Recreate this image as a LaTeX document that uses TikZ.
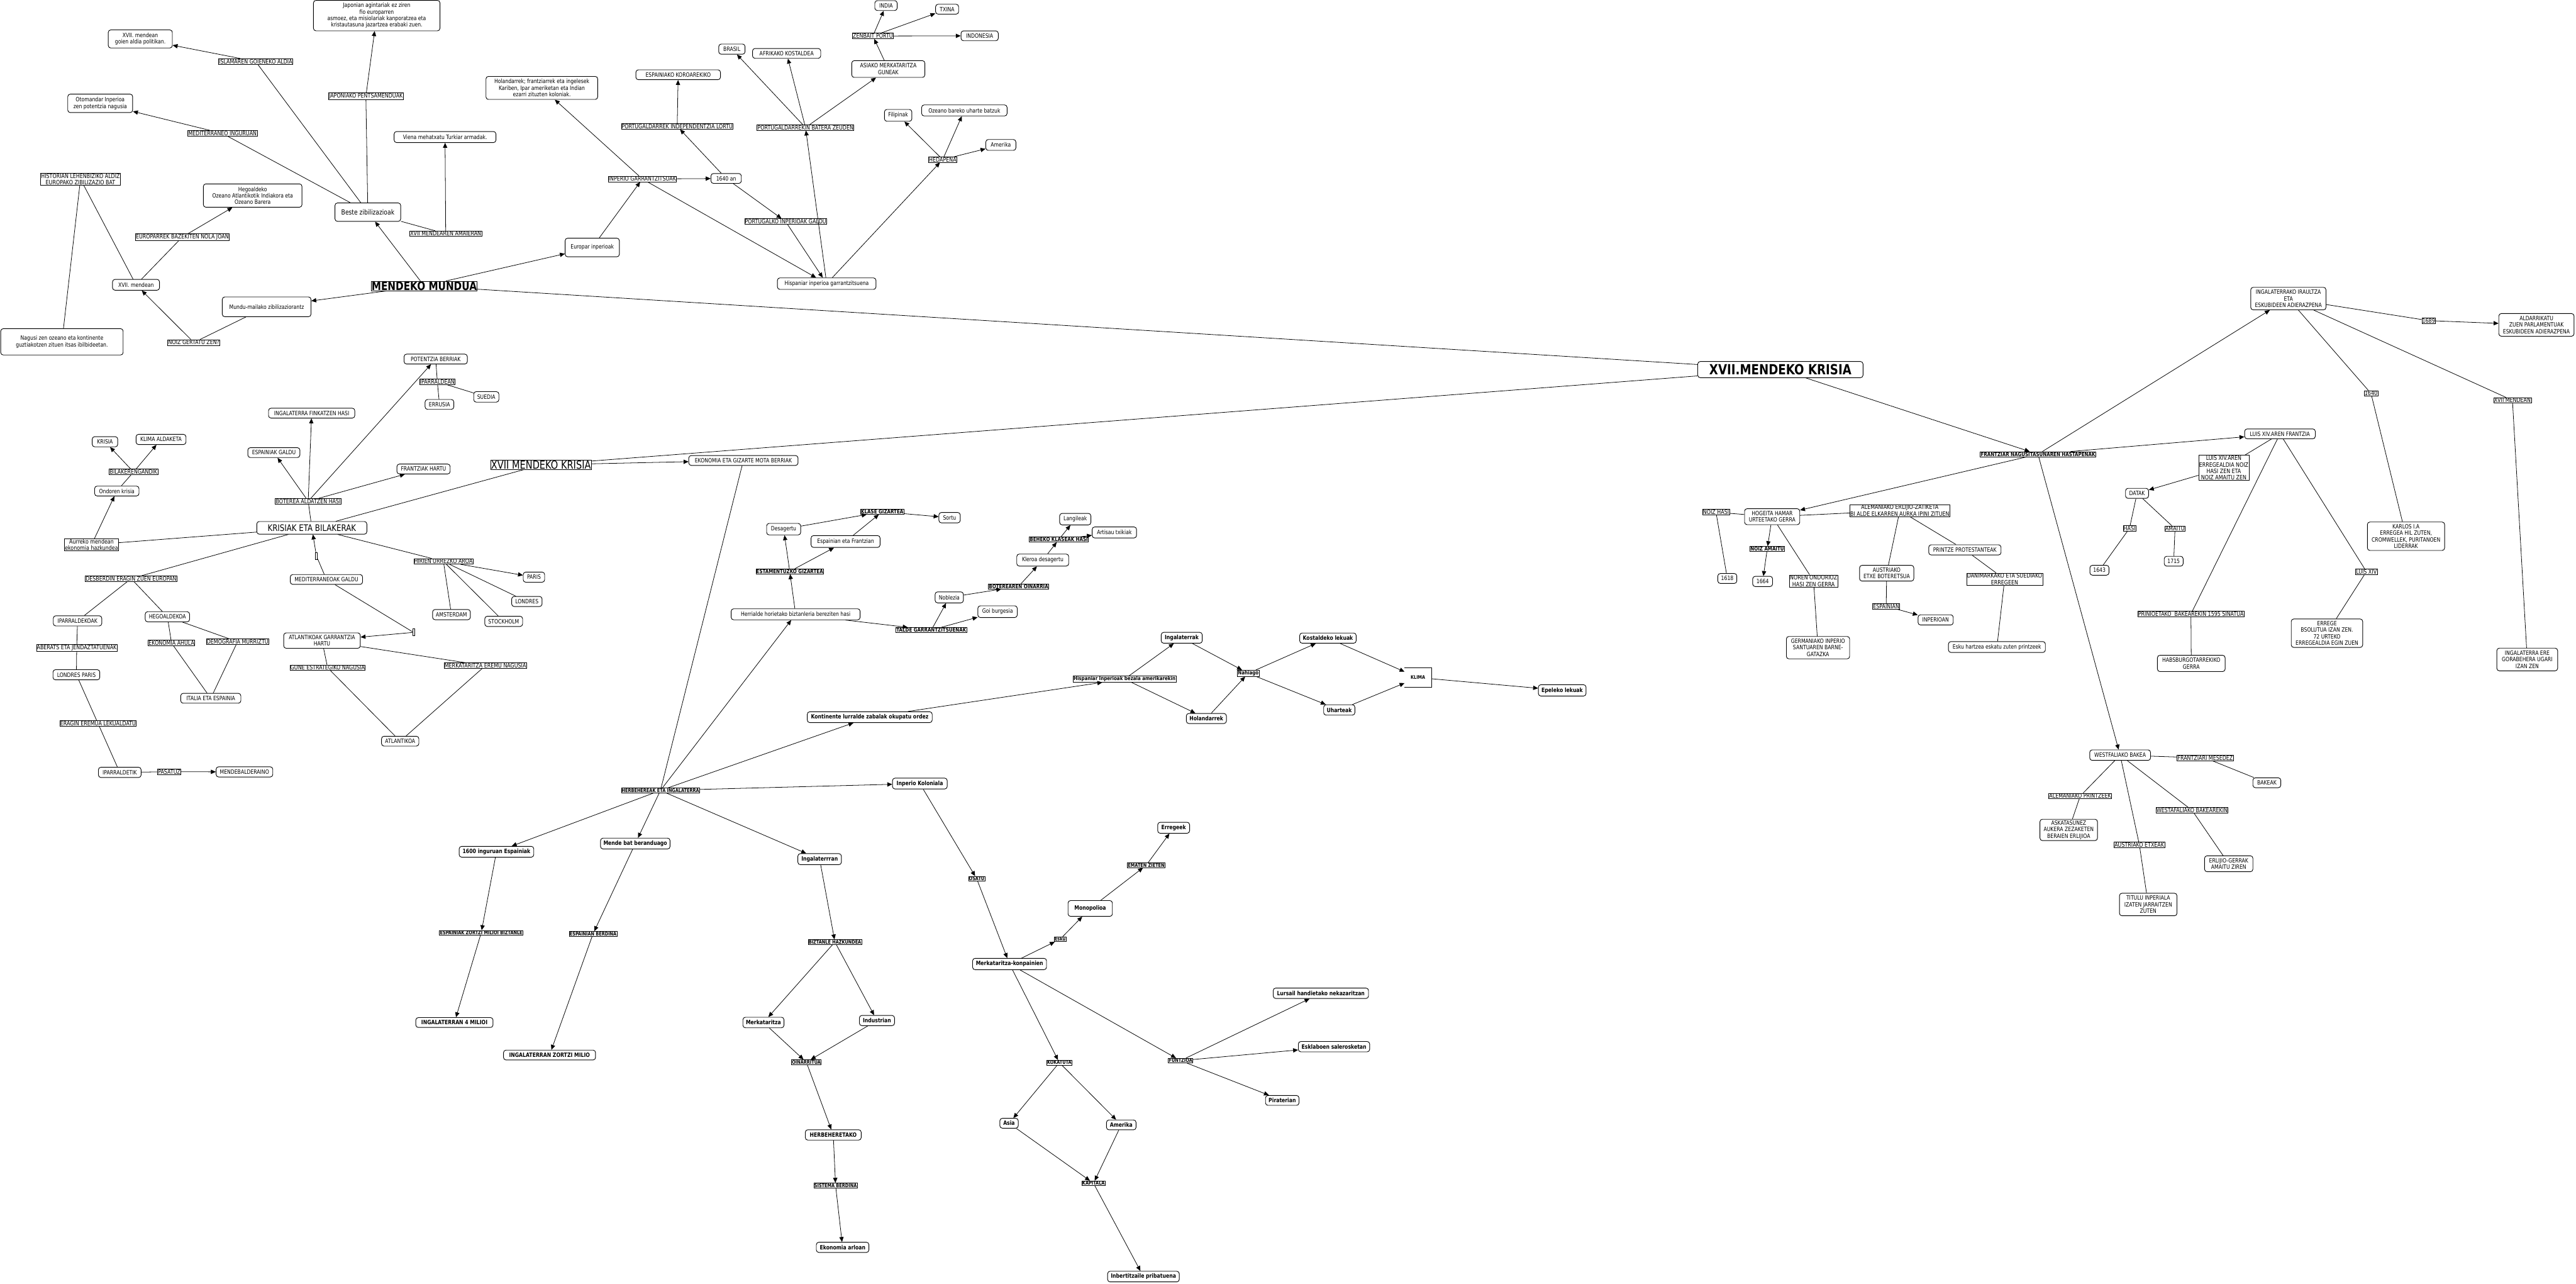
\documentclass[tikz,border=0pt]{standalone}
\usepackage{fontspec}
\setmainfont{DejaVu Sans}[FakeStretch=0.82]
\usetikzlibrary{arrows.meta}
\tikzset{
  cpt/.style={draw, rounded corners=1.5pt, line width=0.35pt, fill=white, align=center, inner sep=0.5pt, font=\fontsize{3.6}{3.95}\selectfont},
  cp/.style 2 args={cpt, minimum width=#1pt, minimum height=#2pt},
  cb/.style 2 args={cpt, font=\fontsize{3.6}{3.95}\selectfont\bfseries, minimum width=#1pt, minimum height=#2pt},
  lab/.style={draw, line width=0.25pt, fill=white, align=center, inner sep=0.3pt, font=\fontsize{3.7}{3.95}\selectfont},
  lbb/.style={lab, font=\fontsize{3.05}{3.4}\selectfont\bfseries},
  lbm/.style={lab, font=\fontsize{3.3}{3.6}\selectfont\bfseries},
  emp/.style={draw, line width=0.25pt, fill=white, minimum width=1.2pt, minimum height=4.2pt, inner sep=0pt},
  ed/.style={line width=0.3pt},
  ar/.style={line width=0.3pt, -{Triangle[length=3pt,width=2.6pt]}},
}
\begin{document}
\begin{tikzpicture}[x=1pt,y=-1pt]
\fill[white] (0,0) rectangle (1568,781);
\useasboundingbox (0,0) rectangle (1568,781);

% ---------- top-left ----------
\node[cp={77}{18.5}] (japon) at (229.3,9.5) {Japonian agintariak ez ziren\\fio europarren\\asmoez, eta misiolariak kanporatzea eta\\kristautasuna jazartzea erabaki zuen.};
\node[cp={39}{11}] (xgoien) at (85.4,23.7) {XVII. mendean\\goien aldia politikan.};
\node[lab] (islam) at (155.6,37.4) {ISLAMAREN GOIENEKO ALDIA};
\node[lab] (japl) at (222.7,58.6) {JAPONIAKO PENTSAMENDUAK};
\node[cp={39.5}{11.2}] (otom) at (61,62.9) {Otomandar Inperioa\\zen potentzia nagusia};
\node[lab] (medit) at (135.4,81.2) {MEDITERRANEO INGURUAN};
\node[cp={62}{6.7}] (viena) at (270.9,83.4) {Viena mehatxatu Turkiar armadak.};
\node[lab] (hist) at (49,109) {HISTORIAN LEHENBIZIKO ALDIZ\\EUROPAKO ZIBILIZAZIO BAT};
\node[cp={60}{14.2}] (hego) at (153.8,119) {Hegoaldeko\\Ozeano Atlantikotik Indiakora eta\\Ozeano Barera};
\node[cp={40}{11.2}, font=\fontsize{4.3}{5}\selectfont] (beste) at (223.9,129.1) {Beste zibilizazioak};
\node[lab] (amaier) at (271.3,142.2) {XVII MENDEAREN AMAIERAN};
\node[lab] (europl) at (111,144.2) {EUROPARREK BAZEKITEN NOLA JOAN};
\node[cp={28.6}{6.6}] (xviim) at (82.8,173.3) {XVII. mendean};
\node[lab, font=\fontsize{7.1}{8}\selectfont\bfseries, inner sep=0.2pt] (mendeko) at (258.2,174) {MENDEKO MUNDUA};
\node[cp={54}{12}] (mundu) at (162.3,186.7) {Mundu-mailako zibilizaziorantz};
\node[lab] (noizg) at (118,208.4) {NOIZ GERTATU ZEN?};
\node[cp={74.5}{16}] (nagusi) at (37.7,208) {Nagusi zen ozeano eta kontinente\\guztiakotzen zituen itsas ibilbideetan.};

% ---------- top-middle ----------
\node[cp={68}{14}] (holand) at (329.8,53.5) {Holandarrek; frantziarrek eta ingelesek\\Kariben, Ipar ameriketan eta Indian\\ezarri zituzten koloniak.};
\node[cp={51.5}{6}] (espkor) at (412.8,45.5) {ESPAINIAKO KOROAREKIKO};
\node[lab] (portind) at (412.2,76.9) {PORTUGALDARREK INDEPENDENTZIA LORTU};
\node[cp={16}{6.2}] (brasil) at (445.5,29.9) {BRASIL};
\node[cp={41.5}{6}] (afrika) at (478.8,32.5) {AFRIKAKO KOSTALDEA};
\node[lab] (portbat) at (490.3,77.6) {PORTUGALDARREKIN BATERA ZEUDEN};
\node[cp={44.5}{10.2}] (asiako) at (540.7,42) {ASIAKO MERKATARITZA\\GUNEAK};
\node[lab] (zenbait) at (531.3,21.9) {ZENBAIT PORTU};
\node[cp={13.6}{6}] (india) at (539.3,3.4) {INDIA};
\node[cp={14}{6}] (txina) at (576.5,5.6) {TXINA};
\node[cp={22.7}{6}] (indon) at (596.3,21.8) {INDONESIA};
\node[cp={16.7}{7.2}] (filip) at (546.7,70.2) {Filipinak};
\node[cp={52}{6.7}] (ozeano) at (587,67.2) {Ozeano bareko uharte batzuk};
\node[cp={18.3}{6.6}] (amerikaa) at (609.2,88.2) {Amerika};
\node[lab] (hedap) at (573.8,97.1) {HEDAPENA};
\node[lab] (inpgar) at (391,108.9) {INPERIO GARRANTZITSUAK};
\node[cp={18.5}{6}] (urte) at (442,108.6) {1640 an};
\node[lab] (portgal) at (478.2,134.8) {PORTUGALKO INPERIOAK GALDU};
\node[cp={33}{11.3}] (europar) at (360.5,150.6) {Europar inperioak};
\node[cp={60}{7}] (hisp) at (503.2,172.6) {Hispaniar inperioa garrantzitsuena};

% ---------- left-middle ----------
\node[cp={52.5}{6}] (ingfink) at (189.7,251.4) {INGALATERRA FINKATZEN HASI};
\node[cp={15.5}{6.2}] (krisia) at (63.9,268.8) {KRISIA};
\node[cp={30.4}{6.2}] (klimaald) at (98,267.4) {KLIMA ALDAKETA};
\node[cp={31.7}{6}] (espgal) at (166.7,275.4) {ESPAINIAK GALDU};
\node[cp={32.4}{6}] (frhart) at (257.8,285.4) {FRANTZIAK HARTU};
\node[lab] (bilak) at (81.3,287.2) {BILAKERENGANDIK};
\node[cp={27}{6}] (ondoren) at (71.1,298.8) {Ondoren krisia};
\node[lab] (boterea) at (187.6,305) {BOTEREA ALDATZEN HASI};
\node[cp={67}{7.7}, font=\fontsize{5.5}{6}\selectfont] (krisiak) at (189.8,321.2) {KRISIAK ETA BILAKERAK};
\node[lab] (aurreko) at (55.7,331.5) {Aurreko mendean\\ekonomia hazkundea};
\node[emp] (empa) at (192.6,338.3) {};
\node[lab] (desb) at (79.8,352.1) {DESBERDIN ERAGIN ZUEN EUROPAN};
\node[cp={44}{6}] (medgal) at (198.7,352.6) {MEDITERRANEOAK GALDU};
\node[lab] (hirien) at (269.9,341.6) {HIRIEN URREZKO AROA};
\node[cp={29.5}{6.2}] (iparkoak) at (47.2,377.8) {IPARRALDEKOAK};
\node[cp={27}{6.2}] (hegokoa) at (101.9,375.3) {HEGOALDEKOA};
\node[cp={23}{6.2}] (amsterdam) at (274.8,374) {AMSTERDAM};
\node[emp] (empb) at (251.7,384.8) {};
\node[cp={46.6}{9.4}] (atlgar) at (196,389.8) {ATLANTIKOAK GARRANTZIA\\HARTU};
\node[lab] (ekahula) at (104.4,391.3) {EKONOMIA AHULA};
\node[lab] (demog) at (144.6,390.5) {DEMOGRAFIA MURRIZTU};
\node[lab] (aberats) at (46.7,394.2) {ABERATS ETA JENDAZTATUENAK};
\node[lab] (gune) at (199.4,406.3) {GUNE ESTRATEGIKO NAGUSIA};
\node[cp={28.5}{6.2}] (lonpar) at (46.5,410.6) {LONDRES PARIS};
\node[cp={36.6}{6}] (italia) at (128.3,424.9) {ITALIA ETA ESPAINIA};
\node[lab] (eragin) at (59.7,440.3) {ERAGIN EREMUA LEKUALDATU};
\node[cp={22.7}{6}] (atlantikoa) at (243.6,451) {ATLANTIKOA};
\node[cp={26}{6.2}] (ipartik) at (72.9,470) {IPARRALDETIK};
\node[lab] (pasatuz) at (103,469.6) {PASATUZ};
\node[cp={34.5}{6.2}] (mendeb) at (148.8,469.7) {MENDEBALDERAINO};
\node[cp={38.5}{6}] (potentzia) at (265.2,218.5) {POTENTZIA BERRIAK};
\node[lab] (iparrean) at (266.2,232.3) {IPARRALDEAN};
\node[cp={17.5}{6}] (errusia) at (267.5,246.1) {ERRUSIA};
\node[cp={15.3}{6.4}] (suedia) at (296,241.5) {SUEDIA};
\node[cp={13}{6.2}] (paris) at (325,351.2) {PARIS};
\node[cp={18.5}{6.1}] (londres) at (320.7,366) {LONDRES};
\node[cp={23}{6.2}] (stock) at (306.6,378.1) {STOCKHOLM};
\node[lab] (merkatl) at (295.4,405.1) {MERKATARITZA EREMU NAGUSIA};
\node[lab, font=\fontsize{6.8}{7.5}\selectfont, inner sep=0.2pt] (xkrisia) at (329.3,282.9) {XVII MENDEKO KRISIA};
\node[cp={66.5}{6}] (ekonomia) at (452.5,280.2) {EKONOMIA ETA GIZARTE MOTA BERRIAK};

% ---------- middle ----------
\node[cp={20.7}{7}] (desag) at (477,322) {Desagertu};
\node[cp={42}{7.2}] (espfr) at (514.7,329.5) {Espainian eta Frantzian};
\node[lbm] (klase) at (537,311.4) {KLASE GIZARTEA};
\node[cp={13}{6.3}] (sortu) at (578,315) {Sortu};
\node[lbm] (estam) at (480.7,347.7) {ESTAMENTUZKO GIZARTEA};
\node[cp={78.5}{6.7}] (herri) at (484.3,373.8) {Herrialde horietako biztanleria bereziten hasi};
\node[cp={17.2}{6.7}] (nobleza) at (577.8,363.5) {Noblezia};
\node[lbm] (talde) at (566.9,383.4) {TALDE GARRANTZITSUENAK};
\node[cp={19}{7}] (langile) at (654.5,315.9) {Langileak};
\node[cp={27}{6.7}] (artisau) at (678.3,324) {Artisau txikiak};
\node[lbm] (beheko) at (644.5,328.3) {BEHEKO KLASEAK HASI};
\node[cp={31.6}{7.3}] (kleroa) at (634.7,340.8) {Kleroa desagertu};
\node[lbm] (botoin) at (620,356.8) {BOTEREAREN OINARRIA};
\node[cp={24}{7.1}] (goib) at (607.2,372.2) {Goi burgesia};
\node[cb={25}{6.6}] (ingak) at (719.3,388.1) {Ingalaterrak};
\node[cb={34.4}{6.2}] (kostal) at (808.3,388.3) {Kostaldeko lekuak};
\node[lbm] (nahiago) at (759.8,409.7) {Nahiago};
\node[lbm] (hispbez) at (684.5,413.2) {Hispaniar Inperioak bezala amerikarekin};
\node[font=\fontsize{3}{3.5}\selectfont\bfseries, minimum width=16pt, minimum height=11.3pt, inner sep=0pt] (klima) at (863.1,412.3) {KLIMA};
\draw[line width=0.35pt] (klima.north west) -- (klima.north east) -- (klima.south east) -- (klima.south west);
\node[cb={29}{6.9}] (epeleko) at (950.9,420.1) {Epeleko lekuak};
\node[cb={19}{6.3}] (uharte) at (815.2,432) {Uharteak};
\node[cb={24.4}{6.1}] (holandb) at (734.3,437.2) {Holandarrek};
\node[cb={76}{6.6}] (kontin) at (529.4,436.4) {Kontinente lurralde zabalak okupatu ordez};
\node[lbb] (herbel) at (402,481) {HERBEHEREAK ETA INGALATERRA};

% ---------- bottom ----------
\node[cb={45.4}{6.6}] (seiehun) at (302.2,518.3) {1600 inguruan Espainiak};
\node[cb={42.3}{6.6}] (mende) at (386.7,513.3) {Mende bat beranduago};
\node[cb={26.5}{6.7}] (ingran) at (498.9,522.8) {Ingalaterrran};
\node[lbb] (espzortzi) at (292.9,567.6) {ESPAINIAK ZORTZI MILIOI BIZTANLE};
\node[lbb] (espberd) at (361,568.2) {ESPAINIAN BERDINA};
\node[lbb] (bizt) at (508.2,573.2) {BIZTANLE HAZKUNDEA};
\node[cb={47}{6}] (ingl4) at (276.6,622.2) {INGALATERRAN 4 MILIOI};
\node[cb={25}{6.4}] (merkat) at (464.7,622.2) {Merkataritza};
\node[cb={21.4}{6.2}] (indus) at (533.8,621) {Industrian};
\node[cb={56}{6}] (ingl8) at (334.5,642) {INGALATERRAN ZORTZI MILIO};
\node[lbb] (oinar) at (490.8,646.3) {OINARRITUA};
\node[cb={34}{6.3}] (herbe) at (507.2,690.6) {HERBEHERETAKO};
\node[lbb] (sistema) at (508.6,721.3) {SISTEMA BERDINA};
\node[cb={32}{6.2}] (ekarl) at (512.9,759) {Ekonomia arloan};
\node[cb={33.3}{6.6}] (inpkol) at (559.9,476.8) {Inperio Koloniala};
\node[cb={19.4}{6.7}] (erregeek) at (714.4,503.7) {Erregeek};
\node[lbb] (ematen) at (697.7,526.5) {EMATEN ZIETEN};
\node[lbb] (osatu) at (594.5,534.7) {OSATU};
\node[cb={27}{9.6}] (monop) at (663.6,552.8) {Monopolioa};
\node[lbb] (esku) at (645.3,571.5) {Esku};
\node[cb={45}{6.9}] (merkkonp) at (614.5,586.6) {Merkataritza-konpainien};
\node[cb={58}{6.3}] (lursail) at (804,604.4) {Lursail handietako nekazaritzan};
\node[cb={43.4}{6.3}] (esklab) at (812,636.9) {Esklaboen salerosketan};
\node[lbb] (funtz) at (718.6,645.4) {FUNTZIOA};
\node[lbb] (kokat) at (644.8,646.6) {KOKATUTA};
\node[cb={20.4}{6}] (pirat) at (780.5,669.6) {Piraterian};
\node[cb={11.2}{6}] (asia) at (614.2,683.5) {Asia};
\node[cb={18}{6}] (amerikab) at (682.5,684.5) {Amerika};
\node[lbb] (kapital) at (665.6,720) {KAPITALA};
\node[cb={43.6}{6.5}] (inbert) at (696,776.8) {Inbertitzaile pribatuena};

% ---------- right ----------
\node[cp={100.6}{9.8}, font=\fontsize{8.5}{9}\selectfont\bfseries] (xkr) at (1083.7,224.9) {XVII.MENDEKO KRISIA};
\node[lbm] (frantziar) at (1240.5,276.4) {FRANTZIAR NAGUSITASUNAREN HASTAPENAK};
\node[cp={33.6}{9.7}] (hogeita) at (1078.7,314.4) {HOGEITA HAMAR\\URTEETAKO GERRA};
\node[lab] (noizhasi) at (1044.5,311.7) {NOIZ HASI};
\node[lab] (alem) at (1156.4,310.7) {ALEMANIAKO ERLIJIO-ZATIKETA\\BI ALDE ELKARREN AURKA IPINI ZITUEN};
\node[lbm] (noizam) at (1075.7,334) {NOIZ AMAITU};
\node[cp={44}{6.2}] (printze) at (1196,334.6) {PRINTZE PROTESTANTEAK};
\node[cp={33}{9.6}] (austri) at (1148.4,348.8) {AUSTRIAKO\\ETXE BOTERETSUA};
\node[lab] (danim) at (1220.2,352.4) {DANIMARKAKO ETA SUEDIAKO\\ERREGEEN};
\node[cp={11.6}{6}] (u1618) at (1051.4,352) {1618};
\node[cp={12.1}{6.2}] (u1664) at (1072.9,353.8) {1664};
\node[lab] (noren) at (1103.9,353.5) {NOREN ONDORIOZ\\HASI ZEN GERRA};
\node[lab] (espainian) at (1148.1,368.9) {ESPAINIAN};
\node[cp={21.4}{6.2}] (inperioan) at (1178.2,377.2) {INPERIOAN};
\node[cp={38.5}{13.6}] (germ) at (1106.6,394.1) {GERMANIAKO INPERIO\\SANTUAREN BARNE-\\GATAZKA};
\node[cp={59}{6.6}] (eskuh) at (1215.5,393.7) {Esku hartzea eskatu zuten printzeek};
\node[cp={11.6}{6}] (u1643) at (1277.9,347) {1643};
\node[cp={14}{6.1}] (datak) at (1300.8,300.2) {DATAK};
\node[lab] (hasi) at (1296.2,321.5) {HASI};
\node[lab] (amaitu) at (1323.9,321.7) {AMAITU};
\node[cp={11.5}{6}] (u1715) at (1323.1,341.5) {1715};
\node[cp={43}{6}] (luis) at (1387.8,264) {LUIS XIV.AREN FRANTZIA};
\node[lab] (luiserr) at (1353.6,284.7) {LUIS XIV.AREN\\ERREGEALDIA NOIZ\\HASI ZEN ETA\\NOIZ AMAITU ZEN};
\node[cp={47}{17.3}] (karlos) at (1464.5,326.3) {KARLOS I.A\\ERREGEA HIL ZUTEN,\\CROMWELLEK, PURITANOEN\\LIDERRAK};
\node[lab] (luisxiv) at (1440.4,347.8) {LUIS XIV};
\node[lab] (prinio) at (1333.6,373.6) {PRINIOETAKO\ \ BAKEAREKIN 1595 SINATUA};
\node[cp={43.5}{17.3}] (errege) at (1416.4,385.3) {ERREGE\\BSOLUTUA IZAN ZEN.\\72 URTEKO\\ERREGEALDIA EGIN ZUEN};
\node[cp={41.2}{9.9}] (habs) at (1333.8,403.7) {HABSBURGOTARREKIKO\\GERRA};
\node[cp={37}{13.8}] (ingere) at (1538.3,401.3) {INGALATERRA ERE\\GORABEHERA UGARI\\IZAN ZEN};
\node[cp={37}{6.4}] (westf) at (1290.5,459.5) {WESTFALIAKO BAKEA};
\node[lab] (frmes) at (1342.3,461.2) {FRANTZIARI MESEDEZ};
\node[cp={17}{6}] (bakeak) at (1379.8,476.3) {BAKEAK};
\node[lab] (westaf) at (1334.3,493.1) {WESTAFALIAKO BAKEAREKIN};
\node[lab] (alprin) at (1266.2,484.4) {ALEMANIAKO PRINTZEEK};
\node[cp={35}{13}] (askat) at (1259.2,505) {ASKATASUNEZ\\AUKERA ZEZAKETEN\\BERAIEN ERLIJIOA};
\node[lab] (austetx) at (1302.2,514) {AUSTRIAKO ETXEAK};
\node[cp={29.4}{9.7}] (erlijio) at (1356.6,525.6) {ERLIJIO-GERRAK\\AMAITU ZIREN};
\node[cp={35}{13.7}] (titulu) at (1307.6,550.4) {TITULU INPERIALA\\IZATEN JARRAITZEN\\ZUTEN};
\node[cp={45.8}{13.7}] (ingirau) at (1392.9,181.7) {INGALATERRAKO IRAULTZA\\ETA\\ESKUBIDEEN ADIERAZPENA};
\node[lab] (l1689) at (1478.3,195.1) {1689};
\node[cp={45.8}{13.8}] (aldarr) at (1543.9,197.7) {ALDARRIKATU\\ZUEN PARLAMENTUAK\\ESKUBIDEEN ADIERAZPENA};
\node[lab] (l1640) at (1443.2,239.4) {1640};
\node[lab] (lxvii) at (1529.3,243.6) {XVII MENDEAN};

% ========== connectors ==========
% top-left
\draw[ar] (mendeko) -- (beste);
\draw[ar] (mendeko) -- (mundu);
\draw[ar] (mendeko) -- (europar);
\draw[ed] (mendeko) -- (xkr);
\draw[ed] (beste) -- (islam); \draw[ar] (islam) -- (xgoien);
\draw[ed] (beste) -- (japl); \draw[ar] (japl) -- (japon);
\draw[ed] (beste) -- (medit); \draw[ar] (medit) -- (otom);
\draw[ed] (beste) -- (amaier); \draw[ar] (amaier) -- (viena);
\draw[ed] (mundu) -- (noizg); \draw[ar] (noizg) -- (xviim);
\draw[ed] (xviim) -- (europl); \draw[ar] (europl) -- (hego);
\draw[ed] (xviim) -- (hist); \draw[ed] (hist) -- (nagusi);

% top-middle
\draw[ar] (europar) -- (inpgar);
\draw[ar] (inpgar) -- (holand);
\draw[ar] (inpgar) -- (urte);
\draw[ar] (inpgar) -- (hisp);
\draw[ar] (urte) -- (portind); \draw[ar] (portind) -- (espkor);
\draw[ar] (urte) -- (portgal); \draw[ar] (portgal) -- (hisp);
\draw[ar] (hisp) -- (portbat);
\foreach \t in {brasil,afrika,asiako} \draw[ar] (portbat) -- (\t);
\draw[ar] (asiako) -- (zenbait);
\foreach \t in {india,txina,indon} \draw[ar] (zenbait) -- (\t);
\draw[ar] (hisp) -- (hedap);
\foreach \t in {filip,ozeano,amerikaa} \draw[ar] (hedap) -- (\t);

% left-middle
\draw[ed] (xkrisia) -- (krisiak);
\draw[ar] (xkrisia) -- (ekonomia);
\draw[ed] (xkrisia) -- (xkr);
\draw[ed] (krisiak) -- (boterea);
\foreach \t in {ingfink,espgal,frhart,potentzia} \draw[ar] (boterea) -- (\t);
\draw[ed] (potentzia) -- (iparrean);
\draw[ed] (iparrean) -- (errusia);
\draw[ed] (iparrean) -- (suedia);
\draw[ed] (krisiak) -- (aurreko); \draw[ar] (aurreko) -- (ondoren);
\draw[ed] (ondoren) -- (bilak); \draw[ar] (bilak) -- (krisia); \draw[ar] (bilak) -- (klimaald);
\draw[ed] (krisiak) -- (desb);
\draw[ed] (desb) -- (iparkoak); \draw[ed] (desb) -- (hegokoa);
\draw[ed] (iparkoak) -- (aberats); \draw[ed] (aberats) -- (lonpar);
\draw[ed] (lonpar) -- (eragin); \draw[ed] (eragin) -- (ipartik);
\draw[ed] (ipartik) -- (pasatuz); \draw[ar] (pasatuz) -- (mendeb);
\draw[ed] (hegokoa) -- (ekahula); \draw[ed] (ekahula) -- (italia);
\draw[ed] (hegokoa) -- (demog); \draw[ed] (demog) -- (italia);
\draw[ed] (medgal) -- (empa); \draw[ar] (empa) -- (krisiak);
\draw[ed] (medgal) -- (empb); \draw[ar] (empb) -- (atlgar);
\draw[ed] (atlgar) -- (gune); \draw[ed] (gune) -- (atlantikoa);
\draw[ed] (atlgar) -- (merkatl); \draw[ed] (merkatl) -- (atlantikoa);
\draw[ed] (krisiak) -- (hirien);
\draw[ed] (hirien) -- (amsterdam); \draw[ed] (hirien) -- (stock); \draw[ed] (hirien) -- (londres);
\draw[ar] (hirien) -- (paris);

% middle
\draw[ed] (ekonomia) -- (herbel);
\foreach \t in {herri,kontin,inpkol,seiehun,mende,ingran} \draw[ar] (herbel) -- (\t);
\draw[ar] (herri) -- (estam);
\draw[ar] (estam) -- (desag); \draw[ar] (estam) -- (espfr);
\draw[ar] (desag) -- (klase); \draw[ar] (espfr) -- (klase);
\draw[ar] (klase) -- (sortu);
\draw[ar] (herri) -- (talde);
\draw[ar] (talde) -- (nobleza); \draw[ar] (talde) -- (goib);
\draw[ar] (nobleza) -- (botoin); \draw[ar] (botoin) -- (kleroa);
\draw[ar] (kleroa) -- (beheko);
\draw[ar] (beheko) -- (langile); \draw[ar] (beheko) -- (artisau);
\draw[ar] (kontin) -- (hispbez);
\draw[ar] (hispbez) -- (ingak); \draw[ar] (hispbez) -- (holandb);
\draw[ar] (ingak) -- (nahiago); \draw[ar] (holandb) -- (nahiago);
\draw[ar] (nahiago) -- (kostal); \draw[ar] (nahiago) -- (uharte);
\draw[ar] (kostal) -- (klima); \draw[ar] (uharte) -- (klima);
\draw[ar] (klima) -- (epeleko);

% bottom
\draw[ar] (seiehun) -- (espzortzi); \draw[ar] (espzortzi) -- (ingl4);
\draw[ar] (mende) -- (espberd); \draw[ar] (espberd) -- (ingl8);
\draw[ar] (ingran) -- (bizt);
\draw[ar] (bizt) -- (merkat); \draw[ar] (bizt) -- (indus);
\draw[ar] (merkat) -- (oinar); \draw[ar] (indus) -- (oinar);
\draw[ar] (oinar) -- (herbe); \draw[ar] (herbe) -- (sistema); \draw[ar] (sistema) -- (ekarl);
\draw[ar] (inpkol) -- (osatu); \draw[ar] (osatu) -- (merkkonp);
\draw[ar] (merkkonp) -- (esku); \draw[ar] (esku) -- (monop);
\draw[ar] (monop) -- (ematen); \draw[ar] (ematen) -- (erregeek);
\draw[ar] (merkkonp) -- (kokat);
\draw[ar] (kokat) -- (asia); \draw[ar] (kokat) -- (amerikab);
\draw[ar] (asia) -- (kapital); \draw[ar] (amerikab) -- (kapital);
\draw[ar] (kapital) -- (inbert);
\draw[ar] (merkkonp) -- (funtz);
\foreach \t in {lursail,esklab,pirat} \draw[ar] (funtz) -- (\t);

% right
\draw[ar] (xkr) -- (frantziar);
\foreach \t in {ingirau,luis,hogeita,westf} \draw[ar] (frantziar) -- (\t);
\draw[ed] (ingirau) -- (l1689); \draw[ar] (l1689) -- (aldarr);
\draw[ed] (ingirau) -- (l1640); \draw[ed] (l1640) -- (karlos);
\draw[ed] (ingirau) -- (lxvii); \draw[ed] (lxvii) -- (ingere);
\draw[ed] (luis) -- (luiserr); \draw[ar] (luiserr) -- (datak);
\draw[ed] (luis) -- (prinio); \draw[ed] (prinio) -- (habs);
\draw[ed] (luis) -- (luisxiv); \draw[ed] (luisxiv) -- (errege);
\draw[ed] (datak) -- (hasi); \draw[ed] (hasi) -- (u1643);
\draw[ed] (datak) -- (amaitu); \draw[ed] (amaitu) -- (u1715);
\draw[ed] (hogeita) -- (noizhasi); \draw[ed] (noizhasi) -- (u1618);
\draw[ar] (hogeita) -- (noizam); \draw[ar] (noizam) -- (u1664);
\draw[ed] (hogeita) -- (noren); \draw[ed] (noren) -- (germ);
\draw[ed] (hogeita) -- (alem);
\draw[ed] (alem) -- (austri); \draw[ed] (alem) -- (printze);
\draw[ed] (austri) -- (espainian); \draw[ar] (espainian) -- (inperioan);
\draw[ed] (printze) -- (danim); \draw[ed] (danim) -- (eskuh);
\draw[ed] (westf) -- (alprin); \draw[ed] (alprin) -- (askat);
\draw[ed] (westf) -- (austetx); \draw[ed] (austetx) -- (titulu);
\draw[ed] (westf) -- (westaf); \draw[ed] (westaf) -- (erlijio);
\draw[ed] (westf) -- (frmes); \draw[ed] (frmes) -- (bakeak);
\end{tikzpicture}
\end{document}
